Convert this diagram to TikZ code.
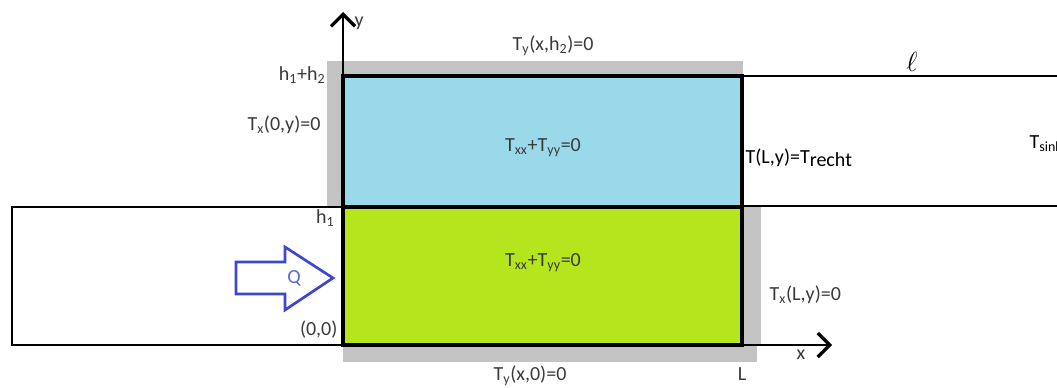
\documentclass[tikz,border=0pt]{standalone}
\usepackage{fontspec}
\setmainfont{Carlito}
\usetikzlibrary{arrows.meta,positioning}
\definecolor{fluid}{HTML}{99D9EA}
\definecolor{solid}{HTML}{B5E61D}
\definecolor{wall}{HTML}{C3C3C3}
\definecolor{flux}{HTML}{3F48CC}
\definecolor{fluxtext}{HTML}{5B6BD6}
\definecolor{ink}{HTML}{3A3A3A}
\newcommand{\lo}[1]{\textsubscript{#1}}

\begin{document}
\begin{tikzpicture}[x=0.75pt, y=0.75pt,
  lbl/.style={font=\fontsize{15}{18}\selectfont, text=ink, inner sep=1pt},
  border/.style={draw=black, line width=2.6pt},
  pipe/.style={draw=black, line width=1.6pt},
  axis/.style={line width=2pt, -{Straight Barb[length=9pt, width=18pt, line width=2.4pt]}}]
  \useasboundingbox (0,0) rectangle (1057,387);
  \coordinate (origin) at (343,42);
  % insulated walls
  \fill[wall] (327,311) rectangle (743,326);
  \fill[wall] (327,180) rectangle (343,311);
  \fill[wall] (742,42) rectangle (761,180);
  \fill[wall] (343,25) rectangle (757,42);
  % inlet and outlet channels
  \draw[pipe] (12,42) rectangle (343,180);
  \draw[pipe] (1075,311) -- (742,311) -- (742,181) -- (1075,181);
  % the two layers
  \filldraw[fill=fluid, border] (343,180) rectangle (742,311);
  \filldraw[fill=solid, border] (343,42) rectangle (742,180);
  % axes
  \draw[axis] (origin) -- (343,375) coordinate (ytip);
  \draw[axis] (origin) -- (832,42) coordinate (xtip);
  \node[lbl, right] (ylab) at (353,364) {y};
  \node[lbl] (xlab) at (801,32) {x};
  % heat input
  \draw[flux, line width=2pt, line join=miter]
    (236,125) -- (285,125) -- (285,140) -- (333,109) -- (285,77) -- (285,93) -- (236,93) -- cycle;
  \node[lbl, text=fluxtext] (Q) at (294,109) {Q};
  % labels
  \node[lbl] (top) at (553,341) {T\lo{y}(x,h\lo{2})=0};
  \node[lbl, anchor=east] (hh) at (327,312) {h\lo{1}+h\lo{2}};
  \node[lbl, anchor=east] (left) at (322,262) {T\lo{x}(0,y)=0};
  \node[lbl, anchor=east] (h1) at (336,169) {h\lo{1}};
  \node[lbl, anchor=east] (zero) at (339,57) {(0,0)};
  \node[lbl] (eqtop) at (543,239) {T\lo{xx}+T\lo{yy}=0};
  \node[lbl] (eqbot) at (543,124) {T\lo{xx}+T\lo{yy}=0};
  \node[lbl, anchor=west, text=black] (recht) at (744,229) {T(L,y)=T\raisebox{-0.3ex}{recht}};
  \node[lbl, anchor=west, text=black] (sink) at (1028,243) {T\lo{sink}};
  \node[lbl, text=black, font=\fontsize{20}{22}\selectfont] (ell) at (912,325) {$\ell$};
  \node[lbl, anchor=west] (right) at (768,92) {T\lo{x}(L,y)=0};
  \node[lbl] (bot) at (530,11) {T\lo{y}(x,0)=0};
  \node[lbl] (Lx) at (742,13) {L};
\end{tikzpicture}
\end{document}
